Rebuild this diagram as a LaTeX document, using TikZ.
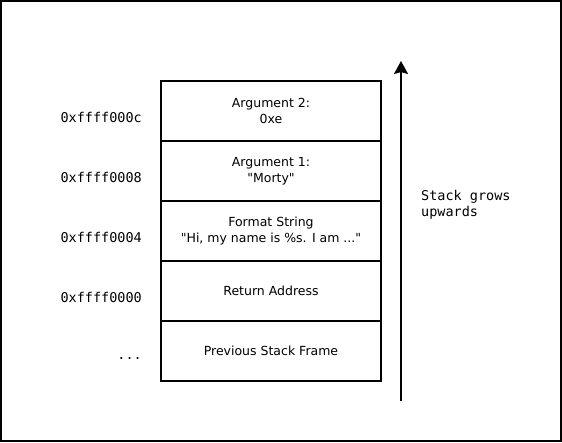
\documentclass[tikz,border=0pt]{standalone}
\usepackage{fontspec}
\setmainfont{DejaVu Sans}[Ligatures=TeXOff]
\setmonofont{DejaVu Sans Mono}
\usetikzlibrary{arrows.meta}
\begin{document}
\begin{tikzpicture}[x=1pt,y=-1pt,
  frame/.style={draw,line width=2pt,minimum width=220pt,minimum height=60pt,inner sep=0pt,align=center,font=\fontsize{12.5}{16}\selectfont},
  addr/.style={anchor=east,inner sep=0pt,font=\ttfamily\fontsize{13.5}{16}\selectfont},
  note/.style={anchor=north west,inner sep=0pt,align=left,font=\ttfamily\fontsize{13.5}{16}\selectfont}]
\draw[line width=2pt] (1,1) rectangle (561,441);
\node[frame] (a2) at (271,111) {Argument 2:\\0xe};
\node[frame] (a1) at (271,171) {Argument 1:\\"Morty"};
\node[frame] (fs) at (271,231) {Format String\\"Hi, my name is \%s. I am ..."};
\node[frame] (ra) at (271,291) {Return Address};
\node[frame] (pf) at (271,351) {Previous Stack Frame};
\node[addr] (l1) at (142,117) {0xffff000c};
\node[addr] (l2) at (142,177) {0xffff0008};
\node[addr] (l3) at (142,237) {0xffff0004};
\node[addr] (l4) at (142,297) {0xffff0000};
\node[addr] (l5) at (142,358) {...};
\coordinate (s0) at (401,401);
\coordinate (s1) at (401,61);
\draw[line width=2pt,-{Stealth[length=13pt,width=14pt,inset=2pt]}] (s0) -- (s1);
\node[note] (sg) at (421,190) {Stack grows\\upwards};
\end{tikzpicture}
\end{document}
